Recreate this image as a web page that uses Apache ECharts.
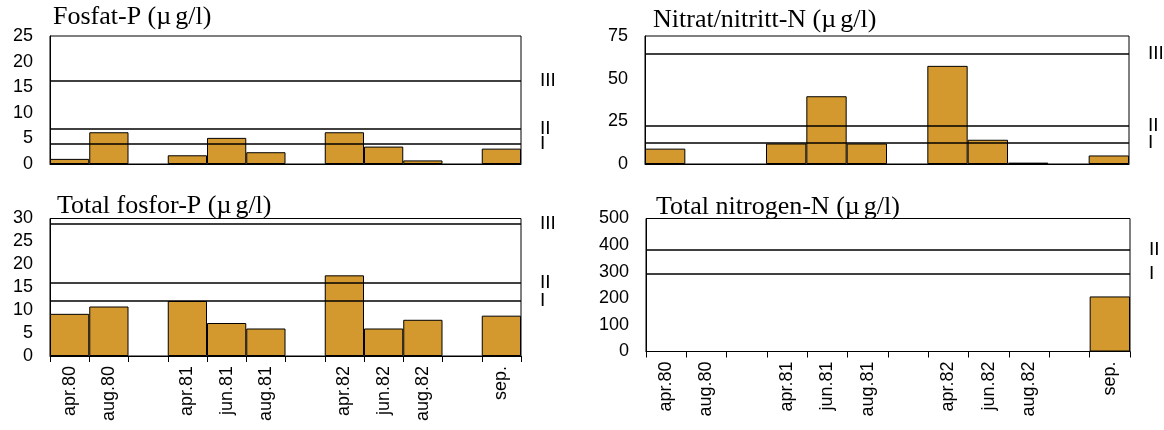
<!DOCTYPE html>
<html>
<head>
<meta charset="utf-8">
<script src="https://cdn.jsdelivr.net/npm/echarts@6/dist/echarts.min.js"></script>
<style>
html,body{margin:0;padding:0;background:#fff;}
#c{width:1164px;height:430px;}
</style>
</head>
<body>
<div id="c"></div>
<script>
// Categories (blank slots are gaps between years)
var categories = ['apr.80', 'aug.80', ' ', 'apr.81', 'jun.81', 'aug.81', '  ', 'apr.82', 'jun.82', 'aug.82', '   ', 'sep.'];

// Series values (µg/l)
var fosfatP        = [1.0, 6.2, null, 1.7, 5.1, 2.3, null, 6.2, 3.4, 0.7, null, 3.0];
var nitratNitrittN = [9.0, null, null, 12.0, 39.7, 12.0, null, 57.5, 14.2, 0.8, null, 5.0];
var totalFosforP   = [9.2, 10.8, null, 12.0, 7.2, 6.0, null, 17.6, 6.0, 7.9, null, 8.8];
var totalNitrogenN = [null, null, null, null, null, null, null, null, null, null, null, 207];

// Class limits [value, label]
var fosfatLimits = [[16.2, 'III'], [6.9, 'II'], [4.0, 'I']];
var nitratLimits = [[64.5, 'III'], [22.4, 'II'], [12.3, 'I']];
var totPLimits   = [[28.9, 'III'], [16.0, 'II'], [12.0, 'I']];
var totNLimits   = [[382, 'II'], [292, 'I']];

// Titles: [before µ, after µ]
var titles = [['Fosfat-P (', 'g/l)'], ['Nitrat/nitritt-N (', 'g/l)'], ['Total fosfor-P (', 'g/l)'], ['Total nitrogen-N (', 'g/l)']];

// Y-axis scales [max, interval]
var yScales = [[25, 5], [75, 25], [30, 5], [500, 100]];

var barColor = '#D4992E';
var sans = 'Liberation Sans, Arial, sans-serif';
var serif = 'Liberation Serif, Times New Roman, serif';

var grids = [
  {left: 50, top: 36, width: 471, height: 128},
  {left: 645, top: 36, width: 484, height: 128},
  {left: 50, top: 218.5, width: 471, height: 137.5},
  {left: 646, top: 218.5, width: 484, height: 133}
];
var titlePos = [[53, 4], [653, 7], [57, 193], [656, 194]];
var seriesData = [fosfatP, nitratNitrittN, totalFosforP, totalNitrogenN];
var limits = [fosfatLimits, nitratLimits, totPLimits, totNLimits];

var tStyle = {fontFamily: serif, fontSize: 26, fontWeight: 'normal', color: '#000'};

var option = {
  backgroundColor: '#fff',
  animation: false,
  title: titles.map(function (t, i) {
    return {
      text: '{a|' + t[0] + '}{m|µ}{a|' + t[1] + '}',
      left: titlePos[i][0], top: titlePos[i][1], padding: 0,
      textStyle: {
        fontFamily: serif, fontSize: 26, color: '#000',
        rich: {
          a: tStyle,
          m: Object.assign({padding: [0, 4, 0, 0]}, tStyle)
        }
      }
    };
  }),
  grid: grids.map(function (g) {
    return Object.assign({show: true, borderColor: '#000', borderWidth: 1, containLabel: false}, g);
  }),
  xAxis: grids.map(function (g, i) {
    var bottom = i >= 2;
    return {
      type: 'category', gridIndex: i, data: categories,
      boundaryGap: true,
      axisLine: {show: true, lineStyle: {color: '#000', width: 1}},
      axisTick: {show: bottom, interval: 0, length: 6, lineStyle: {color: '#000'}},
      axisLabel: {show: bottom, interval: 0, rotate: 90, margin: 10, fontSize: 18, fontFamily: sans, color: '#000'},
      splitLine: {show: false}
    };
  }),
  yAxis: grids.map(function (g, i) {
    return {
      type: 'value', gridIndex: i, min: 0, max: yScales[i][0], interval: yScales[i][1],
      axisLine: {show: true, lineStyle: {color: '#000', width: 1}},
      axisTick: {show: false},
      axisLabel: {margin: 17, fontSize: 18, fontFamily: sans, color: '#000'},
      splitLine: {show: false}
    };
  }),
  series: seriesData.map(function (d, i) {
    return {
      type: 'bar', xAxisIndex: i, yAxisIndex: i, data: d,
      barCategoryGap: 0, barGap: 0,
      itemStyle: {color: barColor, borderColor: '#000', borderWidth: 1},
      markLine: {
        silent: true, symbol: 'none', animation: false,
        lineStyle: {color: '#000', width: 1.5, type: 'solid'},
        label: {show: true, position: 'end', distance: 19, formatter: '{b}', fontSize: 19,
                fontFamily: sans, fontWeight: 'normal', color: '#000'},
        data: limits[i].map(function (l) { return {yAxis: l[0], name: l[1]}; })
      }
    };
  })
};

var chart = echarts.init(document.getElementById('c'), null, {renderer: 'canvas'});
chart.setOption(option);
</script>
</body>
</html>
